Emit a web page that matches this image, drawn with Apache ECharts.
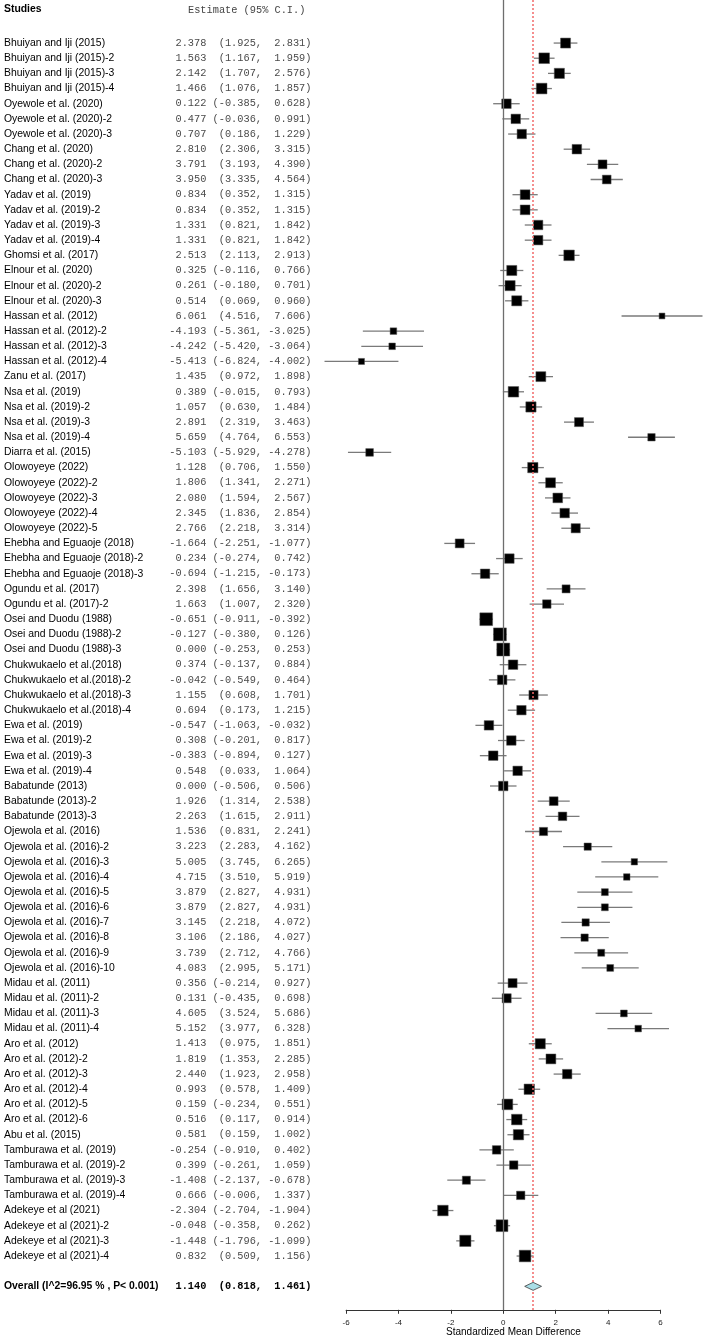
<!DOCTYPE html>
<html>
<head>
<meta charset="utf-8">
<script src="https://cdn.jsdelivr.net/npm/echarts@6/dist/echarts.min.js"></script>
<style>
  html, body { margin: 0; padding: 0; background: #fff; }
  #forest { width: 706px; height: 1339px; }
</style>
</head>
<body>
<div id="forest"></div>
<script>
// studies, top to bottom
var studies = [
  'Bhuiyan and Iji (2015)', 'Bhuiyan and Iji (2015)-2', 'Bhuiyan and Iji (2015)-3', 'Bhuiyan and Iji (2015)-4',
  'Oyewole et al. (2020)', 'Oyewole et al. (2020)-2', 'Oyewole et al. (2020)-3',
  'Chang et al. (2020)', 'Chang et al. (2020)-2', 'Chang et al. (2020)-3',
  'Yadav et al. (2019)', 'Yadav et al. (2019)-2', 'Yadav et al. (2019)-3', 'Yadav et al. (2019)-4',
  'Ghomsi et al. (2017)',
  'Elnour et al. (2020)', 'Elnour et al. (2020)-2', 'Elnour et al. (2020)-3',
  'Hassan et al. (2012)', 'Hassan et al. (2012)-2', 'Hassan et al. (2012)-3', 'Hassan et al. (2012)-4',
  'Zanu et al. (2017)',
  'Nsa et al. (2019)', 'Nsa et al. (2019)-2', 'Nsa et al. (2019)-3', 'Nsa et al. (2019)-4',
  'Diarra et al. (2015)',
  'Olowoyeye (2022)', 'Olowoyeye (2022)-2', 'Olowoyeye (2022)-3', 'Olowoyeye (2022)-4', 'Olowoyeye (2022)-5',
  'Ehebha and Eguaoje (2018)', 'Ehebha and Eguaoje (2018)-2', 'Ehebha and Eguaoje (2018)-3',
  'Ogundu et al. (2017)', 'Ogundu et al. (2017)-2',
  'Osei and Duodu (1988)', 'Osei and Duodu (1988)-2', 'Osei and Duodu (1988)-3',
  'Chukwukaelo et al.(2018)', 'Chukwukaelo et al.(2018)-2', 'Chukwukaelo et al.(2018)-3', 'Chukwukaelo et al.(2018)-4',
  'Ewa et al. (2019)', 'Ewa et al. (2019)-2', 'Ewa et al. (2019)-3', 'Ewa et al. (2019)-4',
  'Babatunde (2013)', 'Babatunde (2013)-2', 'Babatunde (2013)-3',
  'Ojewola et al. (2016)', 'Ojewola et al. (2016)-2', 'Ojewola et al. (2016)-3', 'Ojewola et al. (2016)-4',
  'Ojewola et al. (2016)-5', 'Ojewola et al. (2016)-6', 'Ojewola et al. (2016)-7', 'Ojewola et al. (2016)-8',
  'Ojewola et al. (2016)-9', 'Ojewola et al. (2016)-10',
  'Midau et al. (2011)', 'Midau et al. (2011)-2', 'Midau et al. (2011)-3', 'Midau et al. (2011)-4',
  'Aro et al. (2012)', 'Aro et al. (2012)-2', 'Aro et al. (2012)-3', 'Aro et al. (2012)-4', 'Aro et al. (2012)-5', 'Aro et al. (2012)-6',
  'Abu et al. (2015)',
  'Tamburawa et al. (2019)', 'Tamburawa et al. (2019)-2', 'Tamburawa et al. (2019)-3', 'Tamburawa et al. (2019)-4',
  'Adekeye et al (2021)', 'Adekeye et al (2021)-2', 'Adekeye et al (2021)-3', 'Adekeye et al (2021)-4'
];

var estimate = [
  2.378, 1.563, 2.142, 1.466,
  0.122, 0.477, 0.707,
  2.810, 3.791, 3.950,
  0.834, 0.834, 1.331, 1.331,
  2.513,
  0.325, 0.261, 0.514,
  6.061, -4.193, -4.242, -5.413,
  1.435,
  0.389, 1.057, 2.891, 5.659,
  -5.103,
  1.128, 1.806, 2.080, 2.345, 2.766,
  -1.664, 0.234, -0.694,
  2.398, 1.663,
  -0.651, -0.127, 0.000,
  0.374, -0.042, 1.155, 0.694,
  -0.547, 0.308, -0.383, 0.548,
  0.000, 1.926, 2.263,
  1.536, 3.223, 5.005, 4.715, 3.879, 3.879, 3.145, 3.106, 3.739, 4.083,
  0.356, 0.131, 4.605, 5.152,
  1.413, 1.819, 2.440, 0.993, 0.159, 0.516,
  0.581,
  -0.254, 0.399, -1.408, 0.666,
  -2.304, -0.048, -1.448, 0.832
];

var lower = [
  1.925, 1.167, 1.707, 1.076,
  -0.385, -0.036, 0.186,
  2.306, 3.193, 3.335,
  0.352, 0.352, 0.821, 0.821,
  2.113,
  -0.116, -0.180, 0.069,
  4.516, -5.361, -5.420, -6.824,
  0.972,
  -0.015, 0.630, 2.319, 4.764,
  -5.929,
  0.706, 1.341, 1.594, 1.836, 2.218,
  -2.251, -0.274, -1.215,
  1.656, 1.007,
  -0.911, -0.380, -0.253,
  -0.137, -0.549, 0.608, 0.173,
  -1.063, -0.201, -0.894, 0.033,
  -0.506, 1.314, 1.615,
  0.831, 2.283, 3.745, 3.510, 2.827, 2.827, 2.218, 2.186, 2.712, 2.995,
  -0.214, -0.435, 3.524, 3.977,
  0.975, 1.353, 1.923, 0.578, -0.234, 0.117,
  0.159,
  -0.910, -0.261, -2.137, -0.006,
  -2.704, -0.358, -1.796, 0.509
];

var upper = [
  2.831, 1.959, 2.576, 1.857,
  0.628, 0.991, 1.229,
  3.315, 4.390, 4.564,
  1.315, 1.315, 1.842, 1.842,
  2.913,
  0.766, 0.701, 0.960,
  7.606, -3.025, -3.064, -4.002,
  1.898,
  0.793, 1.484, 3.463, 6.553,
  -4.278,
  1.550, 2.271, 2.567, 2.854, 3.314,
  -1.077, 0.742, -0.173,
  3.140, 2.320,
  -0.392, 0.126, 0.253,
  0.884, 0.464, 1.701, 1.215,
  -0.032, 0.817, 0.127, 1.064,
  0.506, 2.538, 2.911,
  2.241, 4.162, 6.265, 5.919, 4.931, 4.931, 4.072, 4.027, 4.766, 5.171,
  0.927, 0.698, 5.686, 6.328,
  1.851, 2.285, 2.958, 1.409, 0.551, 0.914,
  1.002,
  0.402, 1.059, -0.678, 1.337,
  -1.904, 0.262, -1.099, 1.156
];

// overall: estimate, lower, upper
var overall = [1.140, 0.818, 1.461];
var overallLabel = 'Overall (I^2=96.95 % , P< 0.001)';

var xTicks = [-6, -4, -2, 0, 2, 4, 6];

var OVERALL_ROW = studies.length + 1;

function padLeft(s, n) {
  while (s.length < n) s = ' ' + s;
  return s;
}

function ciText(e, l, u) {
  return padLeft(e.toFixed(3), 6) + ' ' +
    padLeft('(' + l.toFixed(3) + ',', 8) + ' ' +
    padLeft(u.toFixed(3) + ')', 7);
}

// box size grows with precision (narrower interval -> bigger box)
function boxSize(l, u) {
  var se = (u - l) / 3.92;
  return 5.25 / Math.pow(se, 0.44);
}

var ciData = [], boxData = [], textData = [];
for (var i = 0; i < studies.length; i++) {
  ciData.push([lower[i], upper[i], i]);
  boxData.push([estimate[i], i, boxSize(lower[i], upper[i])]);
  textData.push([0, i]);
}
textData.push([0, OVERALL_ROW]);

var SANS = '"Liberation Sans", Arial, sans-serif';
var MONO = '"Liberation Mono", "Courier New", monospace';

var myChart = echarts.init(document.getElementById('forest'), null, { renderer: 'canvas' });

myChart.setOption({
  animation: false,
  backgroundColor: '#fff',
  grid: [
    { left: 300, right: 0, top: 0, height: 1310 },
    { left: 346.1, width: 314.4, top: 1308.8, height: 1 }
  ],
  xAxis: [
    { gridIndex: 0, type: 'value', min: -7.76, max: 7.74, show: false },
    {
      gridIndex: 1, type: 'value', min: -6, max: 6, interval: 2,
      axisLine: { show: true, lineStyle: { color: '#333', width: 1 } },
      axisTick: { show: true, length: 4, lineStyle: { color: '#333', width: 1 } },
      axisLabel: { fontSize: 8, color: '#222', margin: 9, fontFamily: SANS, customValues: xTicks },
      splitLine: { show: false }
    }
  ],
  yAxis: [
    { gridIndex: 0, type: 'value', inverse: true, min: -2.84, max: 83.56, show: false },
    { gridIndex: 1, type: 'value', show: false }
  ],
  graphic: [
    { type: 'text', left: 4, top: 4, style: { text: 'Studies', font: 'bold 10.4px ' + SANS, fill: '#000' } },
    { type: 'text', left: 188, top: 5, style: { text: 'Estimate (95% C.I.)', font: '10.3px ' + MONO, fill: '#444' } },
    { type: 'text', left: 446, top: 1327, style: { text: 'Standardized Mean Difference', font: '10px ' + SANS, fill: '#000' } }
  ],
  series: [
    {
      name: 'ci',
      type: 'custom',
      xAxisIndex: 0, yAxisIndex: 0,
      encode: { x: [0, 1], y: 2 },
      data: ciData,
      z: 3,
      renderItem: function (params, api) {
        var a = api.coord([api.value(0), api.value(2)]);
        var b = api.coord([api.value(1), api.value(2)]);
        return {
          type: 'line',
          shape: { x1: a[0], y1: a[1], x2: b[0], y2: b[1] },
          style: { stroke: '#7a7a7a', lineWidth: 1.3 }
        };
      }
    },
    {
      name: 'estimate',
      type: 'scatter',
      xAxisIndex: 0, yAxisIndex: 0,
      symbol: 'rect',
      symbolSize: function (v) { return v[2]; },
      itemStyle: { color: '#000', borderColor: '#555', borderWidth: 0.5, opacity: 1 },
      data: boxData,
      z: 4,
      markLine: {
        silent: true,
        symbol: 'none',
        label: { show: false },
        animation: false,
        data: [
          { xAxis: 0, lineStyle: { color: '#6e6e6e', width: 1.3, type: 'solid' } },
          { xAxis: overall[0], lineStyle: { color: '#f26a6a', width: 1.5, type: [2, 2] } }
        ]
      }
    },
    {
      name: 'overall',
      type: 'custom',
      xAxisIndex: 0, yAxisIndex: 0,
      encode: { x: [0, 1, 2], y: 3 },
      data: [[overall[1], overall[0], overall[2], OVERALL_ROW]],
      z: 5,
      renderItem: function (params, api) {
        var l = api.coord([api.value(0), api.value(3)]);
        var m = api.coord([api.value(1), api.value(3)]);
        var r = api.coord([api.value(2), api.value(3)]);
        return {
          type: 'polygon',
          shape: { points: [[l[0], l[1]], [m[0], m[1] - 4], [r[0], r[1]], [m[0], m[1] + 4]] },
          style: { fill: '#a9dde6', stroke: '#3c3c3c', lineWidth: 0.8 }
        };
      }
    },
    {
      name: 'text',
      type: 'custom',
      xAxisIndex: 0, yAxisIndex: 0,
      encode: { x: 0, y: 1 },
      data: textData,
      clip: false,
      silent: true,
      z: 6,
      renderItem: function (params, api) {
        var y = api.coord([0, api.value(1)])[1];
        var idx = params.dataIndex;
        var isOverall = idx >= studies.length;
        var name = isOverall ? overallLabel : studies[idx];
        var txt = isOverall ? ciText(overall[0], overall[1], overall[2])
                            : ciText(estimate[idx], lower[idx], upper[idx]);
        return {
          type: 'group',
          children: [
            {
              type: 'text', x: 4, y: y,
              style: {
                text: name, fill: '#000', verticalAlign: 'middle', align: 'left',
                font: (isOverall ? 'bold ' : '') + '10.4px ' + SANS
              }
            },
            {
              type: 'text', x: 169.3, y: y,
              style: {
                text: txt, fill: isOverall ? '#000' : '#4a4a4a', verticalAlign: 'middle', align: 'left',
                font: (isOverall ? 'bold ' : '') + '10.3px ' + MONO
              }
            }
          ]
        };
      }
    }
  ]
});
</script>
</body>
</html>
